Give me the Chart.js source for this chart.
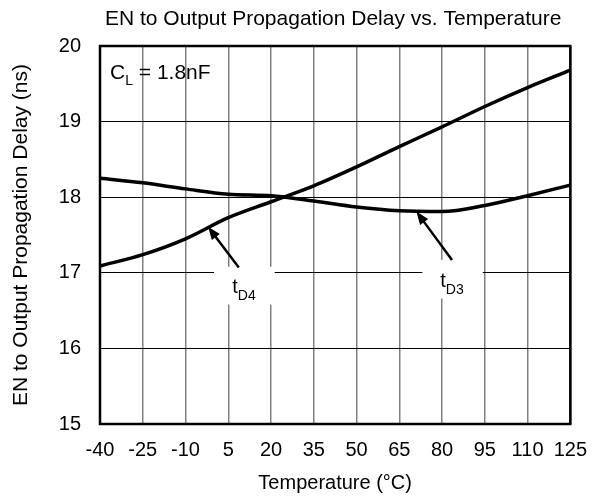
<!DOCTYPE html>
<html><head><meta charset="utf-8">
<script src="https://cdn.jsdelivr.net/npm/chart.js@4/dist/chart.umd.min.js"></script>
<style>html,body{margin:0;padding:0;background:#fff}#wrap{width:601px;height:501px}</style>
</head><body><div id="wrap"><canvas id="c" width="601" height="501"></canvas></div>
<script>
const temps = [-40,-25,-10,5,20,35,50,65,80,95,110,125];
const tD4 = [17.09,17.24,17.45,17.73,17.94,18.15,18.40,18.67,18.93,19.20,19.45,19.68];
const tD3 = [18.25,18.19,18.11,18.04,18.02,17.95,17.87,17.82,17.81,17.89,18.02,18.16];
const xTicks = [-40,-25,-10,5,20,35,50,65,80,95,110,125];
const yTicks = [15,16,17,18,19,20];
const FONT = "'Liberation Sans', Arial, sans-serif";

const labels = [
  {text:'t', sub:'D4', box:[0,17.08,21.3,16.58], pos:[10.5,16.80], tip:[-2.1,17.61], tail:[8.7,17.07]},
  {text:'t', sub:'D3', box:[73.1,17.17,94.3,16.66], pos:[83.5,16.88], tip:[71,17.81], tail:[83.5,17.17]}
];

const annot = {
  id:'annot',
  beforeDatasetsDraw(chart){
    const {ctx, scales:{x,y}} = chart;
    ctx.save();
    ctx.fillStyle='#fff';
    labels.forEach(l=>{
      const x0=x.getPixelForValue(l.box[0]), y0=y.getPixelForValue(l.box[1]);
      const x1=x.getPixelForValue(l.box[2]), y1=y.getPixelForValue(l.box[3]);
      ctx.fillRect(x0,y0,x1-x0,y1-y0);
    });
    ctx.restore();
  },
  afterDatasetsDraw(chart){
    const {ctx, scales:{x,y}, chartArea:a} = chart;
    ctx.save();
    labels.forEach(l=>{
      const tx=x.getPixelForValue(l.tip[0]), ty=y.getPixelForValue(l.tip[1]);
      const sx=x.getPixelForValue(l.tail[0]), sy=y.getPixelForValue(l.tail[1]);
      const ang=Math.atan2(ty-sy,tx-sx);
      const hl=13, hw=5;
      const bx=tx-hl*Math.cos(ang), by=ty-hl*Math.sin(ang);
      ctx.strokeStyle='#000'; ctx.lineWidth=2.5;
      ctx.beginPath(); ctx.moveTo(sx,sy); ctx.lineTo(bx+3*Math.cos(ang),by+3*Math.sin(ang)); ctx.stroke();
      ctx.fillStyle='#000';
      ctx.beginPath();
      ctx.moveTo(tx,ty);
      ctx.lineTo(bx+hw*Math.sin(ang), by-hw*Math.cos(ang));
      ctx.lineTo(bx-hw*Math.sin(ang), by+hw*Math.cos(ang));
      ctx.closePath(); ctx.fill();
      const px=x.getPixelForValue(l.pos[0]), py=y.getPixelForValue(l.pos[1]);
      ctx.textBaseline='middle'; ctx.textAlign='left';
      ctx.font='20px '+FONT;
      const w1=ctx.measureText(l.text).width;
      ctx.font='14px '+FONT;
      const w2=ctx.measureText(l.sub).width;
      const start=px-(w1+w2)/2;
      ctx.font='20px '+FONT; ctx.fillText(l.text,start,py);
      ctx.font='14px '+FONT; ctx.fillText(l.sub,start+w1,py+8);
    });
    ctx.fillStyle='#000'; ctx.textBaseline='middle'; ctx.textAlign='left';
    ctx.font='21px '+FONT;
    const cx=a.left+10, cy=a.top+27;
    ctx.fillText('C',cx,cy);
    const wc=ctx.measureText('C').width;
    ctx.font='14px '+FONT; ctx.fillText('L',cx+wc,cy+8);
    const wl=ctx.measureText('L').width;
    ctx.font='21px '+FONT; ctx.fillText(' = 1.8nF',cx+wc+wl,cy);
    ctx.strokeStyle='#000'; ctx.lineWidth=2.5;
    ctx.strokeRect(a.left,a.top,a.right-a.left,a.bottom-a.top);
    ctx.font='21px '+FONT; ctx.textAlign='center'; ctx.textBaseline='middle';
    ctx.fillText('EN to Output Propagation Delay vs. Temperature',(a.left+a.right)/2-2,19);
    ctx.restore();
  }
};

new Chart(document.getElementById('c'),{
  type:'line',
  data:{datasets:[
    {label:'tD4',data:temps.map((t,i)=>({x:t,y:tD4[i]})),borderColor:'#000',borderWidth:3.5,pointRadius:0,cubicInterpolationMode:'monotone',fill:false},
    {label:'tD3',data:temps.map((t,i)=>({x:t,y:tD3[i]})),borderColor:'#000',borderWidth:3.5,pointRadius:0,cubicInterpolationMode:'monotone',fill:false}
  ]},
  options:{
    responsive:false,animation:false,
    layout:{padding:{left:0,right:27,top:46,bottom:0}},
    plugins:{legend:{display:false},tooltip:{enabled:false},title:{display:false}},
    scales:{
      x:{type:'linear',min:-40,max:125,
        afterBuildTicks(s){s.ticks=xTicks.map(v=>({value:v}));},
        afterFit(s){s.height=77;},
        grid:{color:'#808080',lineWidth:1.5,drawTicks:false},
        border:{display:false},
        ticks:{color:'#000',font:{family:FONT,size:20},padding:14,maxRotation:0,autoSkip:false},
        title:{display:true,text:'Temperature (°C)',color:'#000',font:{family:FONT,size:20},padding:{top:4,bottom:6}}
      },
      y:{type:'linear',min:15,max:20,
        afterBuildTicks(s){s.ticks=yTicks.map(v=>({value:v}));},
        afterFit(s){s.width=100;},
        grid:{color:'#000',lineWidth:1,drawTicks:false},
        border:{display:false},
        ticks:{color:'#000',font:{family:FONT,size:20},padding:19},
        title:{display:true,text:'EN to Output Propagation Delay (ns)',color:'#000',font:{family:FONT,size:21},padding:{top:9,bottom:0}}
      }
    }
  },
  plugins:[annot]
});
</script></body></html>
